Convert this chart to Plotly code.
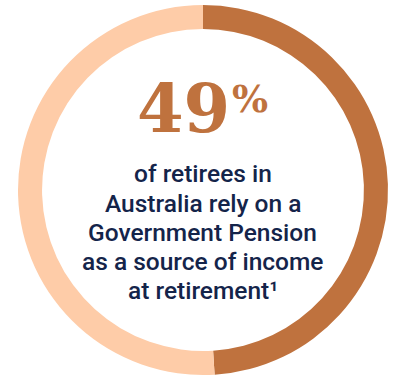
import plotly.graph_objects as go

# Data
segment_labels = ["Rely on Government Pension", "Other"]
segment_values = [49, 51]
segment_colors = ["#BF723E", "#FECCA8"]
headline_value = "49"
headline_unit = "%"
body_lines = [
    "of retirees in",
    "Australia rely on a",
    "Government Pension",
    "as a source of income",
    "at retirement\u00b9",
]

W, H = 395, 378
cx, cy, r = 203, 190, 185  # pixels, y from top

fig = go.Figure()
fig.add_trace(go.Pie(
    labels=segment_labels,
    values=segment_values,
    marker=dict(colors=segment_colors, line=dict(width=0)),
    hole=0.87,
    sort=False,
    direction="clockwise",
    rotation=0,
    textinfo="none",
    hoverinfo="skip",
    showlegend=False,
    domain=dict(x=[(cx - r) / W, (cx + r) / W],
                y=[(H - cy - r) / H, (H - cy + r) / H]),
))

def px(x):
    return x / W

def py(y):
    return 1 - y / H

annotations = []
annotations.append(dict(
    x=px(183), y=py(108), xref="paper", yref="paper",
    text="<b>" + headline_value + "</b>", showarrow=False,
    xanchor="center", yanchor="middle",
    font=dict(family="DejaVu Serif", size=67, color="#BF723E"),
))
annotations.append(dict(
    x=px(250), y=py(99), xref="paper", yref="paper",
    text="<b>" + headline_unit + "</b>", showarrow=False,
    xanchor="center", yanchor="middle",
    font=dict(family="DejaVu Serif", size=38, color="#BF723E"),
))
line_y0 = 174
line_gap = 29
for i, line in enumerate(body_lines):
    annotations.append(dict(
        x=px(203), y=py(line_y0 + i * line_gap), xref="paper", yref="paper",
        text=line, showarrow=False,
        xanchor="center", yanchor="middle",
        font=dict(family="Roboto", size=24.5, color="#14244A", weight=500),
    ))

fig.update_layout(
    width=W, height=H,
    margin=dict(l=0, r=0, t=0, b=0),
    paper_bgcolor="white",
    plot_bgcolor="white",
    annotations=annotations,
)

fig.write_html("out.html")
